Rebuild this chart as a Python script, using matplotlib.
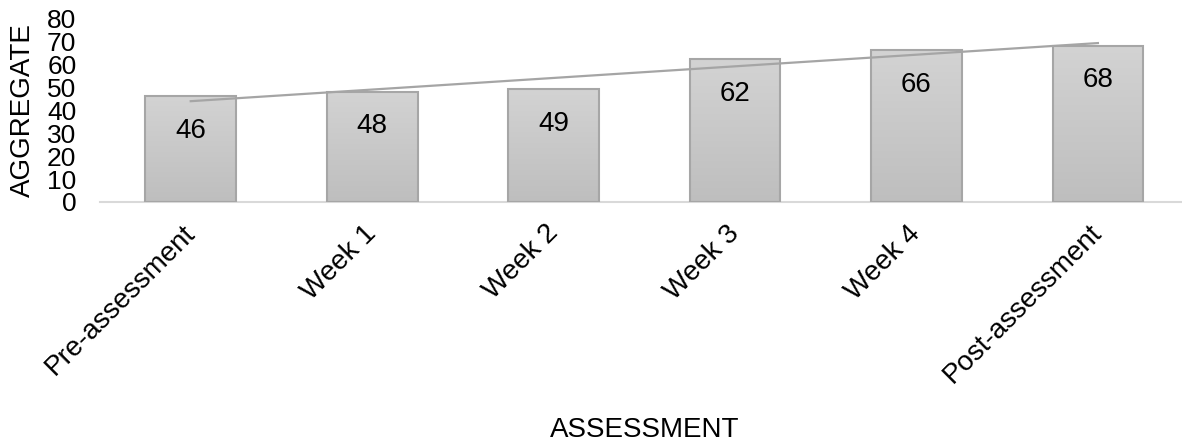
import matplotlib
matplotlib.use('Agg')
import matplotlib.pyplot as plt
import matplotlib.transforms as mtransforms
from matplotlib.colors import LinearSegmentedColormap
import numpy as np

plt.rcParams['font.family'] = ['Liberation Sans', 'DejaVu Sans']

# data
categories = ['Pre-assessment', 'Week 1', 'Week 2', 'Week 3', 'Week 4', 'Post-assessment']
aggregate = [46, 48, 49, 62, 66, 68]
yticks = [0, 10, 20, 30, 40, 50, 60, 70, 80]

fig = plt.figure(figsize=(11.82, 4.42), dpi=100)
ax = fig.add_axes([0.0846, 0.543, 0.921, 0.416])

x = np.arange(len(categories))
bars = ax.bar(x, aggregate, width=0.5, facecolor='none',
              edgecolor='#A6A6A6', linewidth=1.5, zorder=3)

# vertical grey gradient inside each bar
cmap = LinearSegmentedColormap.from_list('bargrad', ['#BEBEBE', '#D3D3D3'])
grad = np.linspace(0, 1, 256).reshape(-1, 1)
for b in bars:
    x0, w, h = b.get_x(), b.get_width(), b.get_height()
    im = ax.imshow(grad, cmap=cmap, aspect='auto', origin='lower',
                   extent=(x0, x0 + w, 0, h), zorder=2)
    im.set_clip_path(b)

# data labels near the top of each bar
for xi, v in zip(x, aggregate):
    ax.text(xi, v - 15, str(v), ha='center', va='center', fontsize=20,
            color='black', zorder=5)

# linear trend line
slope, icpt = np.polyfit(x, aggregate, 1)
ax.plot(x, slope * x + icpt, color='#A5A5A5', linewidth=1.6, zorder=4)

ax.set_xlim(-0.5, 5.5)
ax.set_ylim(0, 80)
ax.set_yticks(yticks)
ax.set_yticklabels([str(t) for t in yticks], fontsize=19)
ax.set_xticks(x)
ax.set_xticklabels(categories, rotation=45, ha='right', va='top',
                   rotation_mode='anchor', fontsize=20)
ax.tick_params(length=0)
ax.tick_params(axis='y', pad=17)
ax.tick_params(axis='x', pad=8)

# nudge the slanted labels a bit left/down like the original
shift = mtransforms.ScaledTranslation(-0.09, -0.07, fig.dpi_scale_trans)
for lbl in ax.get_xticklabels():
    lbl.set_transform(lbl.get_transform() + shift)

for s in ['top', 'right', 'left']:
    ax.spines[s].set_visible(False)
ax.spines['bottom'].set_color('#D9D9D9')
ax.spines['bottom'].set_linewidth(1.5)
ax.spines['bottom'].set_zorder(1)

ax.set_ylabel('AGGREGATE', fontsize=20)
ax.yaxis.set_label_coords(-0.059, 0.5)
ax.set_xlabel('ASSESSMENT', fontsize=20)
ax.xaxis.set_label_coords(0.5, -1.17)

fig.savefig('out.png', dpi=100)
